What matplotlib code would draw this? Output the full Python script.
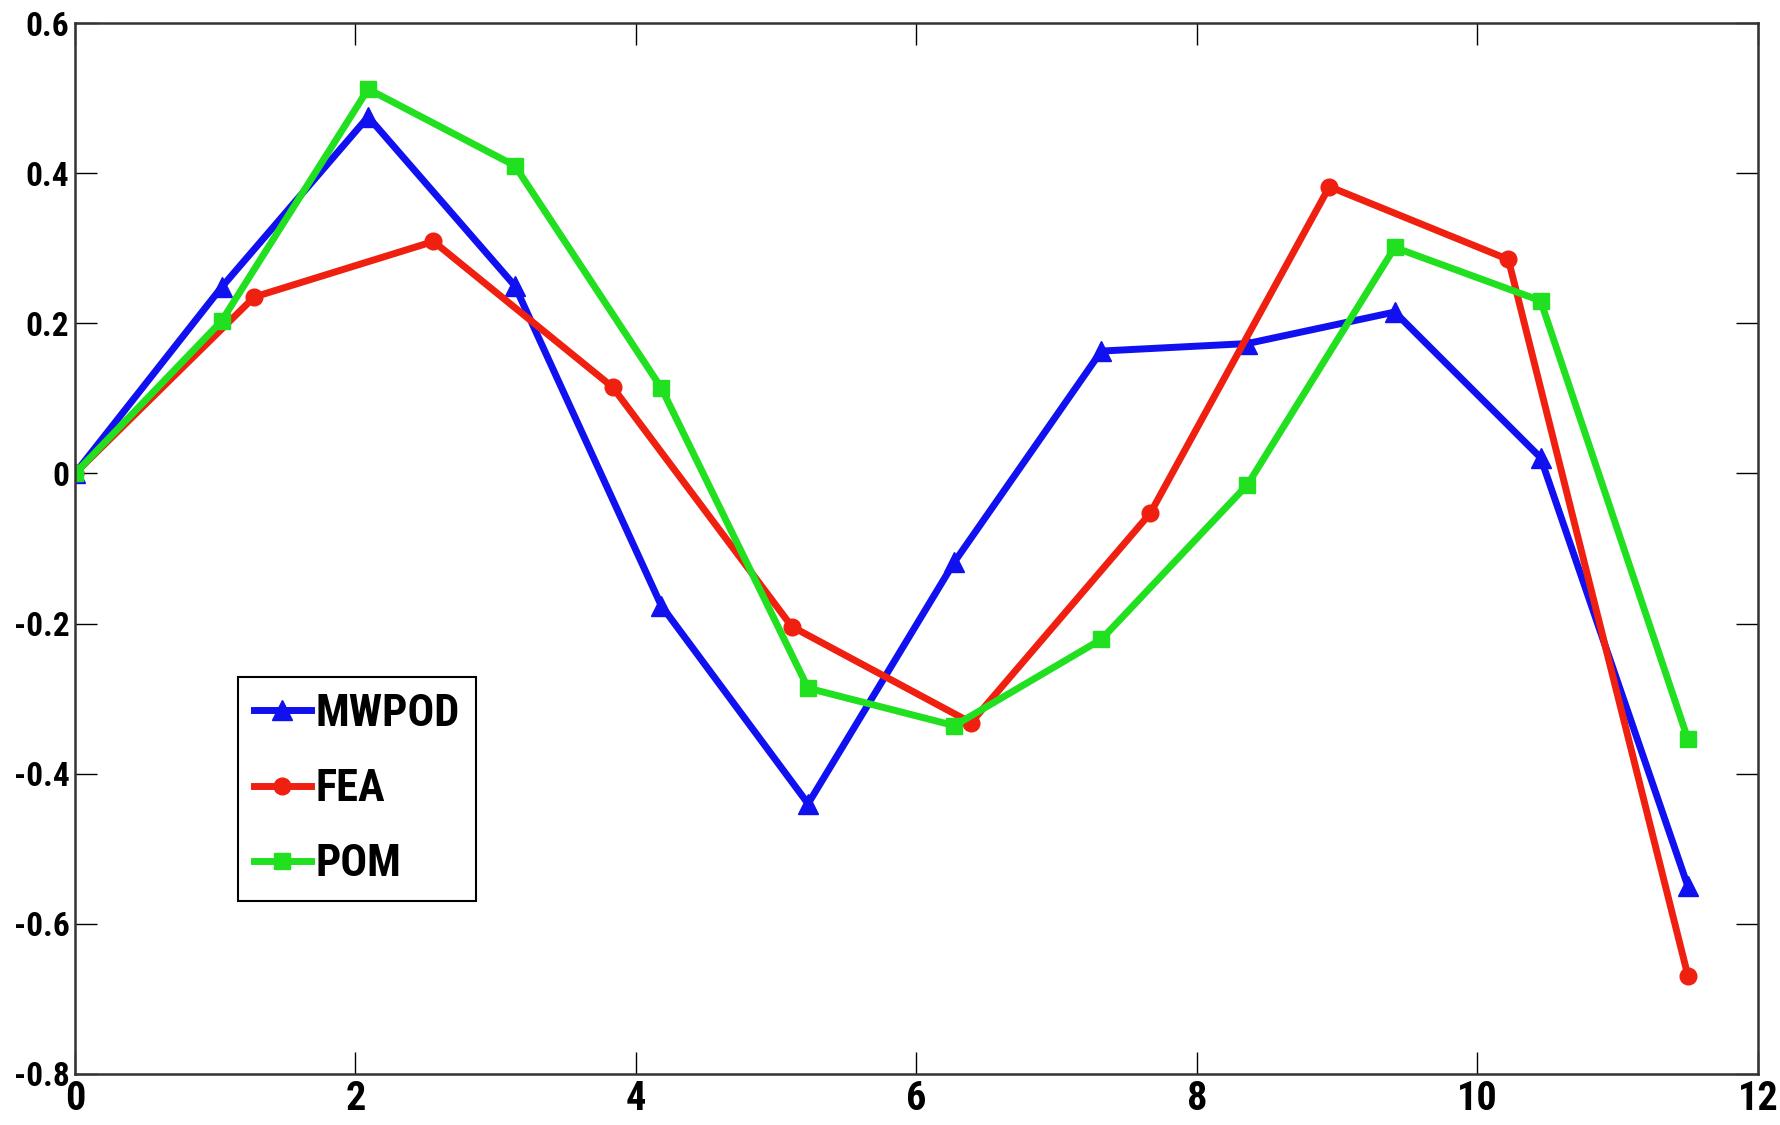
import matplotlib.pyplot as plt
from matplotlib import font_manager

# x positions of the samples
x_12 = [0, 1.045, 2.09, 3.136, 4.18, 5.227, 6.27, 7.318, 8.36, 9.41, 10.45, 11.5]
x_10 = [0, 1.278, 2.556, 3.833, 5.111, 6.389, 7.667, 8.944, 10.22, 11.5]

mwpod = [0, 0.248, 0.475, 0.25, -0.176, -0.44, -0.118, 0.163, 0.173, 0.215, 0.021, -0.55]
fea = [0, 0.235, 0.309, 0.115, -0.204, -0.332, -0.053, 0.382, 0.285, -0.669]
pom = [0, 0.203, 0.512, 0.41, 0.114, -0.286, -0.336, -0.221, -0.015, 0.301, 0.23, -0.354]

xticks = [0, 2, 4, 6, 8, 10, 12]
yticks = [-0.8, -0.6, -0.4, -0.2, 0, 0.2, 0.4, 0.6]

# pick a narrow bold face if one is around
names = {f.name for f in font_manager.fontManager.ttflist}
fam = 'Liberation Sans'
for cand in ['Liberation Sans Narrow', 'Roboto Condensed', 'Arial Narrow', 'Open Sans Condensed']:
    if cand in names:
        fam = cand
        break
plt.rcParams['font.family'] = [fam, 'DejaVu Sans']
plt.rcParams['font.weight'] = 'bold'


def main():
    fig = plt.figure(figsize=(17.81, 11.25), dpi=100)
    ax = fig.add_axes([75 / 1781, 1 - 1074 / 1125, (1758 - 75) / 1781, (1074 - 23) / 1125])

    ax.plot(x_12, mwpod, color='#1010f0', lw=5, marker='^', ms=14, label='MWPOD')
    ax.plot(x_10, fea, color='#f02010', lw=5, marker='o', ms=12, label='FEA')
    ax.plot(x_12, pom, color='#20e020', lw=5, marker='s', ms=12, label='POM')

    ax.set_xlim(0, 12)
    ax.set_ylim(-0.8, 0.6)
    ax.set_xticks(xticks)
    ax.set_yticks(yticks)
    ax.set_xticklabels(['%g' % v for v in xticks], fontsize=29, fontweight='bold')
    ax.set_yticklabels(['%g' % v for v in yticks], fontsize=24, fontweight='bold')
    ax.tick_params(direction='in', length=16, width=1, top=True, right=True, pad=4)
    for s in ax.spines.values():
        s.set_linewidth(1.8)
        s.set_color('#333333')

    leg = ax.legend(loc='lower left', bbox_to_anchor=(163 / 1683, 173 / 1051),
                    borderaxespad=0, prop={'weight': 'bold', 'size': 32},
                    handlelength=1.3, handletextpad=0.1, labelspacing=0.75,
                    borderpad=0.35, fancybox=False, framealpha=1)
    leg.get_frame().set_edgecolor('black')
    leg.get_frame().set_linewidth(1.5)

    fig.savefig('out.png', dpi=100)


if __name__ == '__main__':
    main()
